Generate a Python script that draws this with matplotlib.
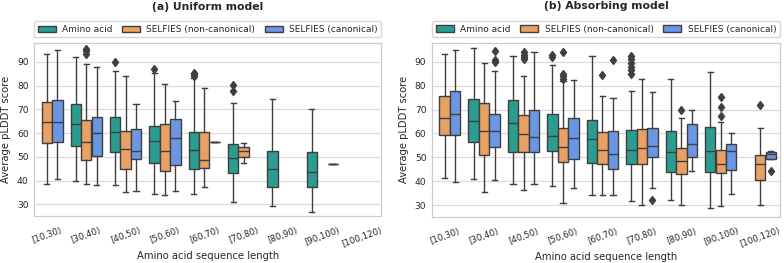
import matplotlib
matplotlib.use("Agg")
import matplotlib.pyplot as plt
from matplotlib.patches import Patch

categories = ['[10,30)', '[30,40)', '[40,50)', '[50,60)', '[60,70)',
              '[70,80)', '[80,90)', '[90,100)', '[100,120)']
hues = ['Amino acid', 'SELFIES (non-canonical)', 'SELFIES (canonical)']
titles = ['(a) Uniform model', '(b) Absorbing model']

# box stats per category: (whislo, q1, med, q3, whishi); None = no data
uniform_amino = [None, (39.7, 54.6, 63.8, 72.1, 92.1), (38.3, 52.1, 60.3, 66.8, 86.2),
                 (34.4, 47.6, 56.6, 63.2, 85.4), (34.3, 44.8, 52.8, 60.4, 83.2),
                 (30.8, 43.1, 49.7, 55.6, 72.8), (29.3, 37.3, 44.8, 52.7, 74.2),
                 (26.8, 37.3, 43.5, 52.0, 70.3), None]
uniform_amino_fliers = [[], [], [90.0], [87.0], [84.0, 84.8, 85.3], [77.7, 80.3], [], [], []]

uniform_noncanon = [(38.6, 56.0, 64.5, 73.3, 93.5), (38.6, 48.6, 56.2, 65.5, 89.0),
                    (35.4, 44.8, 53.2, 61.1, 84.0), (33.9, 44.1, 52.4, 63.9, 80.8),
                    (37.3, 45.2, 48.6, 60.3, 79.0), (47.6, 50.0, 52.4, 54.2, 55.7),
                    None, None, None]
uniform_noncanon_fliers = [[], [93.5, 94.5, 95.5], [], [], [], [], [], [], []]

uniform_canon = [(40.6, 56.3, 64.7, 74.0, 95.2), (38.3, 50.3, 60.0, 67.0, 87.7),
                 (35.8, 49.0, 52.7, 61.7, 72.3), (35.6, 46.8, 57.9, 65.9, 73.5),
                 (56.3, 56.3, 56.3, 56.3, 56.3), None, None,
                 (46.9, 46.9, 46.9, 46.9, 46.9), None]
uniform_canon_fliers = [[], [], [], [], [], [], [], [], []]

absorbing_amino = [None, (40.7, 56.2, 65.1, 74.4, 95.9), (38.9, 52.3, 64.2, 73.8, 92.4),
                   (37.9, 52.8, 59.0, 68.0, 88.6), (34.2, 47.6, 57.5, 65.8, 92.4),
                   (31.7, 47.3, 53.2, 61.4, 77.6), (32.1, 43.9, 52.0, 61.0, 82.8),
                   (28.7, 43.9, 52.7, 62.7, 85.6), None]
absorbing_amino_fliers = [[], [], [], [92.0, 93.0], [], [85.0, 86.5, 88.0, 89.5, 91.0, 92.5],
                          [], [], []]

absorbing_noncanon = [(41.5, 59.4, 66.3, 75.8, 93.4), (35.4, 51.1, 61.1, 72.7, 89.6),
                      (36.3, 52.3, 59.7, 67.6, 84.1), (31.0, 48.0, 54.2, 62.1, 82.1),
                      (34.2, 47.3, 53.2, 60.6, 75.8), (30.0, 47.2, 53.9, 61.7, 82.7),
                      (30.0, 42.8, 48.3, 53.7, 66.3), (29.7, 43.5, 47.3, 53.0, 64.8),
                      (29.9, 40.3, 47.0, 51.1, 62.1)]
absorbing_noncanon_fliers = [[], [], [91.0, 92.0, 93.0, 94.0], [83.0, 84.0, 85.0, 94.0],
                             [84.6], [], [69.9], [67.3, 71.0, 75.2], [72.0]]

absorbing_canon = [(39.7, 59.3, 68.0, 77.7, 95.1), (40.3, 54.4, 61.2, 68.2, 86.3),
                   (39.0, 52.0, 58.7, 69.7, 94.1), (37.0, 49.4, 58.2, 66.5, 82.5),
                   (34.2, 44.9, 51.4, 61.0, 74.8), (37.0, 50.1, 54.8, 62.3, 77.3),
                   (44.4, 50.0, 55.4, 63.8, 69.7), (34.6, 44.8, 52.5, 55.4, 60.0),
                   (49.2, 49.2, 51.3, 52.0, 52.8)]
absorbing_canon_fliers = [[], [89.9, 90.6, 94.5], [], [], [90.8], [32.3], [], [], [44.2]]

panels = [
    [(uniform_amino, uniform_amino_fliers),
     (uniform_noncanon, uniform_noncanon_fliers),
     (uniform_canon, uniform_canon_fliers)],
    [(absorbing_amino, absorbing_amino_fliers),
     (absorbing_noncanon, absorbing_noncanon_fliers),
     (absorbing_canon, absorbing_canon_fliers)],
]

colors = ['#2a9d90', '#e8a064', '#6a96e4']
edge = '#3f3f3f'
grid_c = '#dcdcdc'
text_c = '#262626'

plt.rcParams['font.family'] = ['DejaVu Sans']
fig = plt.figure(figsize=(7.84, 2.63), dpi=100)
axes_rects = [[34.3 / 784, 47 / 263, 347 / 784, 173 / 263],
              [432 / 784, 46.3 / 263, 348 / 784, 174 / 263]]

hue_w = 0.8 / 3
for pi, (rect, panel) in enumerate(zip(axes_rects, panels)):
    ax = fig.add_axes(rect)
    for hi, (stats_list, fliers_list) in enumerate(panel):
        offset = (hi - 1) * hue_w
        stats, pos = [], []
        for ci, (s, fl) in enumerate(zip(stats_list, fliers_list)):
            if s is None:
                continue
            stats.append(dict(whislo=s[0], q1=s[1], med=s[2], q3=s[3], whishi=s[4],
                              fliers=fl))
            pos.append(ci + offset)
        ax.bxp(stats, positions=pos, widths=hue_w * 0.98, patch_artist=True,
               manage_ticks=False,
               boxprops=dict(facecolor=colors[hi], edgecolor=edge, linewidth=1.0),
               medianprops=dict(color=edge, linewidth=1.0),
               whiskerprops=dict(color=edge, linewidth=1.0),
               capprops=dict(color=edge, linewidth=1.0),
               flierprops=dict(marker='d', markerfacecolor=edge, markeredgecolor=edge,
                               markersize=4.3, linestyle='none'),
               capwidths=hue_w * 0.98 * 0.5)
    ax.set_xlim(-0.32, 8.5)
    ax.set_ylim(25.1, 98.0)
    ax.set_yticks([30, 40, 50, 60, 70, 80, 90])
    ax.set_xticks(range(len(categories)))
    ax.set_xticklabels(categories, rotation=20, fontsize=6.2, color=text_c)
    ax.tick_params(axis='y', labelsize=6.6, labelcolor=text_c, length=0, pad=4)
    ax.tick_params(axis='x', length=0, pad=7)
    ax.yaxis.grid(True, color=grid_c, linewidth=0.9)
    ax.set_axisbelow(True)
    for sp in ax.spines.values():
        sp.set_color('#cccccc')
        sp.set_linewidth(0.9)
    ax.set_xlabel('Amino acid sequence length', fontsize=7.2, color=text_c, labelpad=2)
    ax.set_ylabel('Average pLDDT score', fontsize=7.2, color=text_c, labelpad=4)
    handles = [Patch(facecolor=c, edgecolor=edge, linewidth=1.0) for c in colors]
    leg = ax.legend(handles, hues, loc='lower left', bbox_to_anchor=(0, 1.032, 1, 0.1),
                    mode='expand', ncol=3, borderaxespad=0, fontsize=6.5,
                    frameon=True, edgecolor='#cccccc', fancybox=True,
                    handlelength=2.0, handletextpad=0.7, columnspacing=0.8,
                    borderpad=0.4)
    for t in leg.get_texts():
        t.set_color(text_c)
    ax.text(0.5, 1.21, titles[pi], transform=ax.transAxes, ha='center', va='center',
            fontsize=7.8, fontweight='bold', color=text_c)

fig.savefig('out.png', dpi=100, facecolor='white')
